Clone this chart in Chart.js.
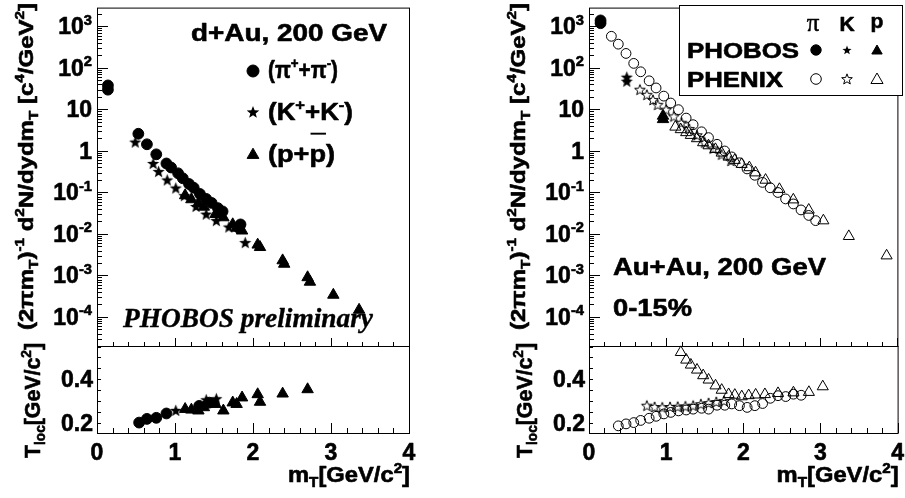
<!DOCTYPE html>
<html>
<head>
<meta charset="utf-8">
<title>Local slope temperature, d+Au and Au+Au at 200 GeV</title>
<script src="https://cdn.jsdelivr.net/npm/chart.js@4.4.1/dist/chart.umd.min.js"></script>
<style>
  html, body { margin: 0; padding: 0; background: #fff; }
  #page { position: relative; width: 905px; height: 498px; overflow: hidden; }
  #page canvas { position: absolute; left: 0; top: 0; }
</style>
</head>
<body>
<div id="page">
  <canvas id="dau-spectra" width="905" height="498"></canvas>
  <canvas id="dau-tloc" width="905" height="498"></canvas>
  <canvas id="auau-spectra" width="905" height="498"></canvas>
  <canvas id="auau-tloc" width="905" height="498"></canvas>
</div>
<script>
// ---- d+Au, PHOBOS preliminary: invariant yields vs m_T ----
const dauPionMt = [0.14, 0.14, 0.53, 0.64, 0.76, 0.89, 0.95, 1.04, 1.10, 1.18, 1.24, 1.32, 1.40, 1.47, 1.55, 1.61, 1.82, 1.84];
const dauPionYield = [38, 30, 2.6, 1.45, 0.83, 0.50, 0.40, 0.29, 0.22, 0.16, 0.13, 0.092, 0.070, 0.056, 0.042, 0.035, 0.014, 0.017];
const dauKaonMt = [0.49, 0.72, 0.79, 0.90, 1.01, 1.12, 1.27, 1.40, 1.53, 1.69, 1.90];
const dauKaonYield = [1.64, 0.50, 0.32, 0.20, 0.128, 0.084, 0.046, 0.030, 0.021, 0.0147, 0.0062];
const dauProtonMt = [1.13, 1.21, 1.30, 1.37, 1.52, 1.62, 1.74, 1.79, 1.86, 2.06, 2.09, 2.38, 2.40, 2.70, 2.73, 3.03, 3.36];
const dauProtonYield = [0.085, 0.068, 0.055, 0.045, 0.030, 0.025, 0.017, 0.014, 0.012, 0.0055, 0.0048, 0.0023, 0.0019, 0.00090, 0.00070, 0.00034, 0.000148];

// ---- d+Au local temperature ----
const dauPionTlocMt = [0.54, 0.64, 0.76, 0.89, 1.31, 1.44];
const dauPionTloc = [0.200, 0.217, 0.222, 0.242, 0.277, 0.292];
const dauKaonTlocMt = [1.01, 1.40, 1.53];
const dauKaonTloc = [0.256, 0.305, 0.310];
const dauProtonTlocMt = [1.13, 1.21, 1.30, 1.37, 1.52, 1.62, 1.74, 1.79, 1.86, 2.06, 2.09, 2.38, 2.70];
const dauProtonTloc = [0.262, 0.259, 0.255, 0.270, 0.285, 0.255, 0.292, 0.285, 0.315, 0.330, 0.295, 0.333, 0.353];

// ---- Au+Au 0-15%: PHOBOS (filled) and PHENIX (open) yields ----
const phobosPionMt = [0.15, 0.15];
const phobosPionYield = [1400, 1200];
const phobosKaonMt = [0.49, 0.49];
const phobosKaonYield = [60, 48];
const phobosProtonMt = [0.96, 0.96];
const phobosProtonYield = [7.0, 5.8];

const phenixPionMt = [0.29, 0.38, 0.48, 0.58, 0.67, 0.78, 0.87, 0.97, 1.06, 1.16, 1.26, 1.35, 1.46, 1.55, 1.66, 1.76, 1.85, 1.95, 2.05, 2.15, 2.25, 2.35, 2.45, 2.55, 2.65, 2.75, 2.85, 2.94];
const phenixPionYield = [580, 375, 224, 129, 81, 49, 33, 21, 14.3, 9.9, 6.2, 4.3, 2.9, 2.1, 1.45, 1.0, 0.72, 0.52, 0.37, 0.26, 0.175, 0.13, 0.10, 0.070, 0.053, 0.038, 0.028, 0.021];
const phenixKaonMt = [0.66, 0.75, 0.83, 0.89, 1.00, 1.10, 1.20, 1.30, 1.40, 1.50, 1.61, 1.72, 1.84];
const phenixKaonYield = [30, 22.6, 17, 13, 9.9, 6.8, 4.8, 3.4, 2.4, 1.6, 1.15, 0.82, 0.58];
const phenixProtonMt = [1.12, 1.19, 1.26, 1.32, 1.40, 1.48, 1.55, 1.64, 1.72, 1.81, 1.89, 1.98, 2.08, 2.16, 2.29, 2.47, 2.65, 2.85, 3.04, 3.37, 3.86];
const phenixProtonYield = [3.8, 3.3, 2.8, 2.4, 2.0, 1.6, 1.35, 1.1, 0.90, 0.72, 0.60, 0.48, 0.40, 0.30, 0.20, 0.12, 0.067, 0.038, 0.021, 0.0088, 0.0030];

// ---- Au+Au local temperature (PHENIX) ----
const phenixPionTlocMt = [0.38, 0.48, 0.58, 0.67, 0.78, 0.87, 0.97, 1.06, 1.16, 1.26, 1.35, 1.46, 1.55, 1.66, 1.76, 1.85, 1.95, 2.05, 2.15, 2.25, 2.35, 2.45, 2.55, 2.65, 2.75];
const phenixPionTloc = [0.185, 0.194, 0.200, 0.210, 0.220, 0.229, 0.240, 0.247, 0.254, 0.258, 0.262, 0.266, 0.262, 0.280, 0.280, 0.286, 0.278, 0.270, 0.278, 0.288, 0.312, 0.324, 0.320, 0.331, 0.326];
const phenixKaonTlocMt = [0.75, 0.85, 0.95, 1.05, 1.15, 1.25, 1.35, 1.45, 1.55, 1.65, 1.75];
const phenixKaonTloc = [0.278, 0.272, 0.270, 0.272, 0.273, 0.275, 0.278, 0.285, 0.290, 0.295, 0.300];
const phenixProtonTlocMt = [1.19, 1.26, 1.32, 1.40, 1.48, 1.55, 1.64, 1.72, 1.81, 1.89, 1.98, 2.07, 2.16, 2.28, 2.45, 2.65, 2.85, 3.03];
const phenixProtonTloc = [0.524, 0.489, 0.466, 0.443, 0.417, 0.397, 0.370, 0.350, 0.330, 0.327, 0.320, 0.325, 0.328, 0.330, 0.335, 0.338, 0.340, 0.366];

// ---- axes ----
const mtTicks = [0, 1, 2, 3, 4];
const mtTickLabels = ["0", "1", "2", "3", "4"];
const yieldTicks = [1e3, 1e2, 10, 1, 1e-1, 1e-2, 1e-3, 1e-4];
const yieldTickBase = ["10", "10", "10", "1", "10", "10", "10", "10"];
const yieldTickExp = ["3", "2", "", "", "-1", "-2", "-3", "-4"];
const tlocTicks = [0.2, 0.4];
const tlocTickLabels = ["0.2", "0.4"];

const MT_MIN = 0, MT_MAX = 4;
const YIELD_MIN = 2e-5, YIELD_MAX = 2850;
const TLOC_MIN = 0.152, TLOC_MAX = 0.553;

const SANS = '"Liberation Sans", Arial, Helvetica, sans-serif';
const SERIF = '"Liberation Serif", "Times New Roman", serif';

const yieldTitle = [["(2πm"], ["T", "sub"], [")"], ["-1", "sup"], [" d"], ["2", "sup"], ["N/dydm"], ["T", "sub"], [" [c"], ["4", "sup"], ["/GeV"], ["2", "sup"], ["]"]];
const tlocTitle = [["T"], ["loc", "sub"], ["[GeV/c"], ["2", "sup"], ["]"]];
const mtTitle = [["m"], ["T", "sub"], ["[GeV/c"], ["2", "sup"], ["]"]];

const pts = (xs, ys) => xs.map((x, i) => ({ x, y: ys[i] }));

function starImage(r, filled) {
  const size = Math.ceil(2 * r + 4);
  const c = document.createElement("canvas");
  c.width = size;
  c.height = size;
  const g = c.getContext("2d");
  g.translate(size / 2, size / 2 + r * 0.08);
  g.beginPath();
  for (let i = 0; i < 10; i++) {
    const rad = i % 2 === 0 ? r : r * 0.42;
    const a = -Math.PI / 2 + (i * Math.PI) / 5;
    g.lineTo(rad * Math.cos(a), rad * Math.sin(a));
  }
  g.closePath();
  if (filled) {
    g.fillStyle = "#000";
    g.fill();
  } else {
    g.strokeStyle = "#000";
    g.lineWidth = 1;
    g.stroke();
  }
  return c;
}

const STYLE = {
  circleFilled: { pointStyle: "circle", pointRadius: 5.4, pointBackgroundColor: "#000", pointBorderColor: "#000", pointBorderWidth: 1 },
  starFilled: { pointStyle: starImage(6.4, true), pointRadius: 5 },
  triFilled: { pointStyle: "triangle", pointRadius: 6.6, pointBackgroundColor: "#000", pointBorderColor: "#000", pointBorderWidth: 1 },
  circleOpen: { pointStyle: "circle", pointRadius: 4.9, pointBackgroundColor: "rgba(0,0,0,0)", pointBorderColor: "#000", pointBorderWidth: 1 },
  starOpen: { pointStyle: starImage(5.6, false), pointRadius: 5 },
  triOpen: { pointStyle: "triangle", pointRadius: 6.4, pointBackgroundColor: "rgba(0,0,0,0)", pointBorderColor: "#000", pointBorderWidth: 1 },
};

function series(label, xs, ys, style) {
  return { label, data: pts(xs, ys), showLine: false, clip: false, pointHoverRadius: style.pointRadius, ...style };
}

// text with super/subscripts; "heavy" strokes the glyphs to match the thick print
function drawRich(ctx, parts, x, y, o) {
  const size = o.size;
  const fam = o.family || SANS;
  const st = o.style || "bold";
  const small = size * 0.64;
  const pieces = parts.map((p) => {
    const [text, kind] = Array.isArray(p) ? p : [p, ""];
    const fs = kind === "sup" || kind === "sub" ? small : size;
    ctx.font = `${st} ${fs}px ${fam}`;
    return { text, kind: kind || "", fs, w: ctx.measureText(text).width };
  });
  const total = pieces.reduce((s, p) => s + p.w, 0);
  const sx = o.fit ? o.fit / total : 1;
  const w = total * sx;
  const start = o.align === "right" ? -w : o.align === "center" ? -w / 2 : 0;
  const heavy = o.heavy === undefined ? 0.6 : o.heavy;
  ctx.save();
  ctx.translate(x, y);
  if (o.angle) ctx.rotate(o.angle);
  ctx.translate(start, 0);
  ctx.scale(sx, 1);
  ctx.fillStyle = "#000";
  ctx.strokeStyle = "#000";
  ctx.lineJoin = "round";
  ctx.textAlign = "left";
  ctx.textBaseline = "alphabetic";
  let cx = 0;
  pieces.forEach((p) => {
    ctx.font = `${st} ${p.fs}px ${fam}`;
    let dy = 0;
    if (p.kind === "sup") dy = -size * 0.42;
    if (p.kind === "sub") dy = size * 0.24;
    ctx.fillText(p.text, cx, dy);
    if (heavy > 0) {
      ctx.lineWidth = heavy;
      ctx.strokeText(p.text, cx, dy);
    }
    if (p.kind === "bar") ctx.fillRect(cx + 1, -size * 1.22, p.w - 1, Math.max(1.4, size * 0.08));
    cx += p.w;
  });
  ctx.restore();
}

function drawMarker(ctx, kind, open, r, x, y) {
  ctx.save();
  ctx.fillStyle = "#000";
  ctx.strokeStyle = "#000";
  ctx.lineWidth = 1;
  if (kind === "star") {
    const img = starImage(r, !open);
    ctx.drawImage(img, x - img.width / 2, y - img.height / 2);
    ctx.restore();
    return;
  }
  ctx.beginPath();
  if (kind === "circle") {
    ctx.arc(x, y, r, 0, Math.PI * 2);
  } else {
    for (let i = 0; i < 3; i++) {
      const a = (i * 2 * Math.PI) / 3;
      ctx.lineTo(x + Math.sin(a) * r, y - Math.cos(a) * r);
    }
    ctx.closePath();
  }
  if (!open) ctx.fill();
  ctx.stroke();
  ctx.restore();
}

function mtTickMarks(major, minor) {
  const out = [];
  for (let i = 0; i <= 20; i++) out.push([i * 0.2, i % 5 === 0 ? major : minor]);
  return out;
}
function logTickMarks() {
  const out = [];
  for (let d = -5; d <= 3; d++) {
    for (let m = 1; m <= 9; m++) {
      const v = m * Math.pow(10, d);
      if (v > YIELD_MIN && v < YIELD_MAX) out.push([v, m === 1 ? 11 : 5]);
    }
  }
  return out;
}
function tlocTickMarks() {
  const out = [];
  for (let i = 0; i <= 8; i++) {
    const v = 0.15 + i * 0.05;
    if (v > TLOC_MIN && v < TLOC_MAX) out.push([v, 4]);
  }
  return out;
}

function panelDecor(cfg) {
  return {
    id: "panelDecor",
    afterDraw(chart) {
      const { ctx, chartArea: a, scales } = chart;
      const xs = scales.x;
      const ys = scales.y;
      ctx.save();
      ctx.strokeStyle = "#000";
      ctx.lineWidth = 1;
      ctx.strokeRect(a.left + 0.5, a.top + 0.5, a.right - a.left, a.bottom - a.top);
      ctx.beginPath();
      cfg.xTicks.forEach(([v, len]) => {
        const px = Math.round(xs.getPixelForValue(v)) + 0.5;
        ctx.moveTo(px, a.bottom);
        ctx.lineTo(px, a.bottom - len);
      });
      cfg.yTicks.forEach(([v, len]) => {
        const py = Math.round(ys.getPixelForValue(v)) + 0.5;
        ctx.moveTo(a.left, py);
        ctx.lineTo(a.left + len, py);
      });
      ctx.stroke();
      ctx.restore();
      cfg.draw(ctx, a, xs, ys);
    },
  };
}

function drawYieldAxis(ctx, a, ys, titleX) {
  yieldTicks.forEach((v, i) => {
    const y = ys.getPixelForValue(v);
    const parts = yieldTickExp[i] ? [[yieldTickBase[i]], [yieldTickExp[i], "sup"]] : [[yieldTickBase[i]]];
    drawRich(ctx, parts, a.left - 5, y + 8, { size: 23, align: "right" });
  });
  drawRich(ctx, yieldTitle, titleX, 3, { size: 21, align: "right", angle: -Math.PI / 2, fit: 327 });
}

function drawTlocAxis(ctx, a, xs, ys, titleX) {
  tlocTicks.forEach((v, i) => {
    drawRich(ctx, [[tlocTickLabels[i]]], a.left - 4, ys.getPixelForValue(v) + 8, { size: 23, align: "right" });
  });
  mtTicks.forEach((v, i) => {
    drawRich(ctx, [[mtTickLabels[i]]], xs.getPixelForValue(v), 460, { size: 23, align: "center" });
  });
  drawRich(ctx, tlocTitle, titleX, 343, { size: 22, align: "right", angle: -Math.PI / 2, fit: 115 });
  drawRich(ctx, mtTitle, a.right + 1, 482, { size: 22, align: "right", fit: 122 });
}

function makeChart(id, datasets, yType, yMin, yMax, padding, decor) {
  return new Chart(document.getElementById(id), {
    type: "scatter",
    data: { datasets },
    options: {
      responsive: false,
      animation: false,
      devicePixelRatio: 1,
      layout: { padding },
      events: [],
      scales: {
        x: { type: "linear", min: MT_MIN, max: MT_MAX, display: false },
        y: { type: yType, min: yMin, max: yMax, display: false },
      },
      plugins: { legend: { display: false }, tooltip: { enabled: false } },
    },
    plugins: [decor],
  });
}

// left column: d+Au
makeChart("dau-spectra", [
  series("pi", dauPionMt, dauPionYield, STYLE.circleFilled),
  series("K", dauKaonMt, dauKaonYield, STYLE.starFilled),
  series("p", dauProtonMt, dauProtonYield, STYLE.triFilled),
], "logarithmic", YIELD_MIN, YIELD_MAX, { left: 97, top: 5, right: 496, bottom: 152 }, panelDecor({
  xTicks: mtTickMarks(8, 4),
  yTicks: logTickMarks(),
  draw(ctx, a, xs, ys) {
    drawYieldAxis(ctx, a, ys, 33);
    drawRich(ctx, [["d+Au, 200 GeV"]], 191, 41, { size: 24, fit: 196 });
    drawMarker(ctx, "circle", false, 6, 253, 71);
    drawMarker(ctx, "star", false, 6.6, 253, 112);
    drawMarker(ctx, "triangle", false, 6.8, 253, 155);
    drawRich(ctx, [["(π"], ["+", "sup"], ["+π"], ["-", "sup"], [")"]], 268, 78, { size: 24, fit: 70 });
    drawRich(ctx, [["(K"], ["+", "sup"], ["+K"], ["-", "sup"], [")"]], 268, 120, { size: 24, fit: 85 });
    drawRich(ctx, [["(p+"], ["p", "bar"], [")"]], 268, 162, { size: 24, fit: 67 });
    drawRich(ctx, [["PHOBOS preliminary"]], 123, 327, { size: 27, family: SERIF, style: "italic bold", fit: 250, heavy: 0.4 });
  },
}));

makeChart("dau-tloc", [
  series("pi", dauPionTlocMt, dauPionTloc, STYLE.circleFilled),
  series("K", dauKaonTlocMt, dauKaonTloc, STYLE.starFilled),
  series("p", dauProtonTlocMt, dauProtonTloc, STYLE.triFilled),
], "linear", TLOC_MIN, TLOC_MAX, { left: 97, top: 346, right: 496, bottom: 65 }, panelDecor({
  xTicks: mtTickMarks(10, 5),
  yTicks: tlocTickMarks(),
  draw(ctx, a, xs, ys) {
    drawTlocAxis(ctx, a, xs, ys, 40);
  },
}));

// right column: Au+Au 0-15%
makeChart("auau-spectra", [
  series("PHENIX pi", phenixPionMt, phenixPionYield, STYLE.circleOpen),
  series("PHENIX K", phenixKaonMt, phenixKaonYield, STYLE.starOpen),
  series("PHENIX p", phenixProtonMt, phenixProtonYield, STYLE.triOpen),
  series("PHOBOS pi", phobosPionMt, phobosPionYield, STYLE.circleFilled),
  series("PHOBOS K", phobosKaonMt, phobosKaonYield, STYLE.starFilled),
  series("PHOBOS p", phobosProtonMt, phobosProtonYield, STYLE.triFilled),
], "logarithmic", YIELD_MIN, YIELD_MAX, { left: 589, top: 5, right: 3, bottom: 152 }, panelDecor({
  xTicks: mtTickMarks(8, 4),
  yTicks: logTickMarks(),
  draw(ctx, a, xs, ys) {
    drawYieldAxis(ctx, a, ys, 525);
    ctx.save();
    ctx.fillStyle = "#fff";
    ctx.fillRect(680, 6, 222, 89);
    ctx.strokeStyle = "#000";
    ctx.lineWidth = 1;
    ctx.strokeRect(679.5, 5.5, 223, 90);
    ctx.restore();
    drawRich(ctx, [["π"]], 813, 31, { size: 25, family: SERIF, style: "normal", align: "center", heavy: 0.5 });
    drawRich(ctx, [["K"]], 847, 31, { size: 21, align: "center" });
    drawRich(ctx, [["p"]], 877, 28, { size: 21, align: "center" });
    drawRich(ctx, [["PHOBOS"]], 687, 58, { size: 22, fit: 112 });
    drawRich(ctx, [["PHENIX"]], 687, 87, { size: 22, fit: 96 });
    drawMarker(ctx, "circle", false, 5.2, 816, 50);
    drawMarker(ctx, "star", false, 4.8, 847, 50);
    drawMarker(ctx, "triangle", false, 6, 877, 51);
    drawMarker(ctx, "circle", true, 5.3, 816, 79);
    drawMarker(ctx, "star", true, 5.6, 847, 79);
    drawMarker(ctx, "triangle", true, 7, 877, 80);
    drawRich(ctx, [["Au+Au, 200 GeV"]], 613, 275, { size: 24, fit: 213 });
    drawRich(ctx, [["0-15%"]], 613, 316, { size: 24, fit: 79 });
  },
}));

makeChart("auau-tloc", [
  series("PHENIX pi", phenixPionTlocMt, phenixPionTloc, STYLE.circleOpen),
  series("PHENIX K", phenixKaonTlocMt, phenixKaonTloc, STYLE.starOpen),
  series("PHENIX p", phenixProtonTlocMt, phenixProtonTloc, STYLE.triOpen),
], "linear", TLOC_MIN, TLOC_MAX, { left: 589, top: 346, right: 3, bottom: 65 }, panelDecor({
  xTicks: mtTickMarks(10, 5),
  yTicks: tlocTickMarks(),
  draw(ctx, a, xs, ys) {
    drawTlocAxis(ctx, a, xs, ys, 532);
  },
}));
</script>
</body>
</html>
